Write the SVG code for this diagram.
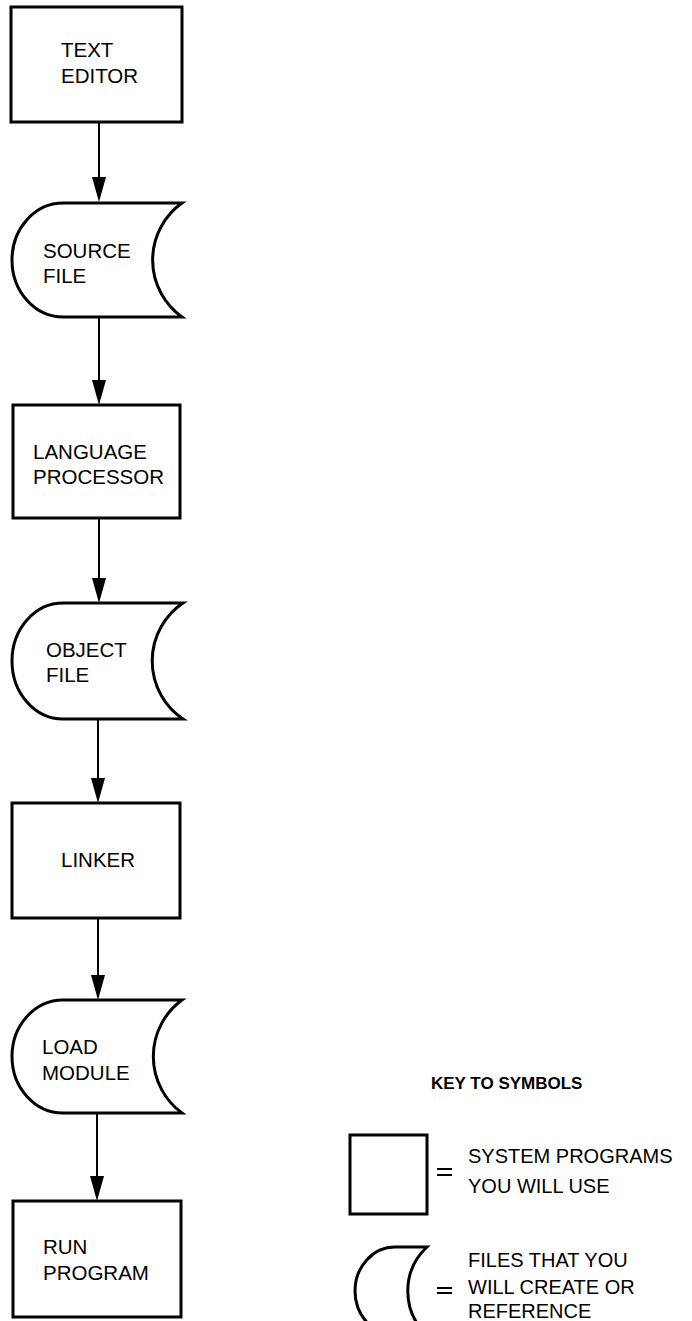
<svg xmlns="http://www.w3.org/2000/svg" width="692" height="1321" viewBox="0 0 692 1321">
<style>
.shape{fill:#fff;stroke:#000;stroke-width:3;stroke-linejoin:miter}
.lbl{font-family:"Liberation Sans",Arial,Helvetica,sans-serif;font-size:20.5px;fill:#000}
.klbl{font-family:"Liberation Sans",Arial,Helvetica,sans-serif;font-size:20px;fill:#000}
.key{font-family:"Liberation Sans",Arial,Helvetica,sans-serif;font-size:17px;font-weight:bold;fill:#000}
.conn{stroke:#000;stroke-width:2;fill:none}
.eq{stroke:#000;stroke-width:2.2;fill:none}
</style>
<rect width="692" height="1321" fill="#fff"/>
<g id="connectors">
<path class="conn" d="M99,123 V178"/><path d="M92,177 L106,177 L99,202 Z"/>
<path class="conn" d="M99,318 V381"/><path d="M92,380 L106,380 L99,405 Z"/>
<path class="conn" d="M99,519 V579"/><path d="M92,578 L106,578 L99,603 Z"/>
<path class="conn" d="M98,720 V779"/><path d="M91,778 L105,778 L98,803 Z"/>
<path class="conn" d="M98,919 V976"/><path d="M91,975 L105,975 L98,1000 Z"/>
<path class="conn" d="M97,1114 V1177"/><path d="M90,1176 L104,1176 L97,1201 Z"/>
</g>
<g id="text-editor">
<rect class="shape" x="11" y="7" width="171" height="115"/>
<text class="lbl" x="61" y="57">TEXT</text>
<text class="lbl" x="61" y="83">EDITOR</text>
</g>
<g id="source-file">
<path class="shape" d="M63,203 L182,203 A70,70 0 0 0 182,317 L63,317 A51,57 0 0 1 63,203 Z"/>
<text class="lbl" x="43" y="258">SOURCE</text>
<text class="lbl" x="43" y="283">FILE</text>
</g>
<g id="language-processor">
<rect class="shape" x="13" y="405" width="167" height="113"/>
<text class="lbl" x="33" y="459">LANGUAGE</text>
<text class="lbl" x="33" y="484">PROCESSOR</text>
</g>
<g id="object-file">
<path class="shape" d="M63,603 L183,603 A70,70 0 0 0 183,719 L63,719 A51,58 0 0 1 63,603 Z"/>
<text class="lbl" x="46" y="657">OBJECT</text>
<text class="lbl" x="46" y="682">FILE</text>
</g>
<g id="linker">
<rect class="shape" x="12" y="803" width="168" height="115"/>
<text class="lbl" x="61" y="867">LINKER</text>
</g>
<g id="load-module">
<path class="shape" d="M63,1000 L182,1000 A70,70 0 0 0 182,1113 L63,1113 A51,56.5 0 0 1 63,1000 Z"/>
<text class="lbl" x="42" y="1054">LOAD</text>
<text class="lbl" x="42" y="1080">MODULE</text>
</g>
<g id="run-program">
<rect class="shape" x="13" y="1201" width="168" height="116"/>
<text class="lbl" x="43" y="1254">RUN</text>
<text class="lbl" x="43" y="1280">PROGRAM</text>
</g>
<g id="key">
<text class="key" x="431" y="1089">KEY TO SYMBOLS</text>
<rect class="shape" x="350" y="1135" width="77" height="79"/>
<path class="eq" d="M437,1169 H452 M437,1175 H452"/>
<text class="klbl" x="468" y="1163">SYSTEM PROGRAMS</text>
<text class="klbl" x="468" y="1193">YOU WILL USE</text>
<path class="shape" d="M395,1247 L427,1247 A60,60 0 0 0 427,1335 L395,1335 A40,44 0 0 1 395,1247 Z"/>
<path class="eq" d="M437,1288 H452 M437,1293 H452"/>
<text class="klbl" x="468" y="1267">FILES THAT YOU</text>
<text class="klbl" x="468" y="1294">WILL CREATE OR</text>
<text class="klbl" x="468" y="1318">REFERENCE</text>
</g>
</svg>
